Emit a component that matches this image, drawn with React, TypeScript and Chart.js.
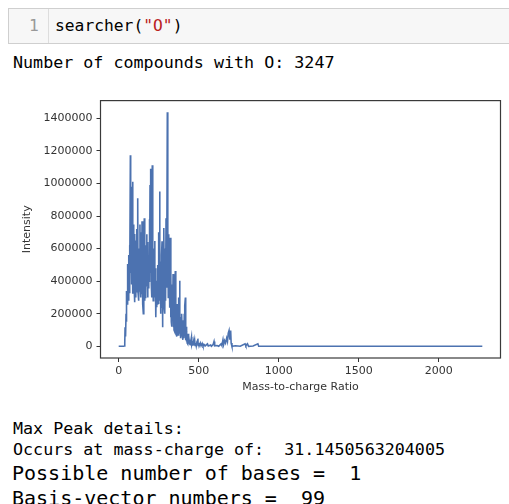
import React, { useEffect, useRef } from "react";
import { Chart, registerables } from "chart.js";

Chart.register(...registerables);

// Mass-to-charge values (x) and intensities (y)
const masses = [
  0, 10, 20, 30, 35, 38, 40, 43, 46, 48,
  50, 52, 54, 56, 58, 60, 62, 64, 66, 68,
  70, 73, 75, 77, 79, 81, 83, 85, 87, 89,
  91, 94, 96, 98, 100, 102, 104, 106, 108, 110,
  112, 114, 116, 119, 121, 123, 125, 127, 130, 133,
  135, 137, 139, 141, 143, 146, 148, 150, 152, 154,
  156, 158, 160, 162, 164, 166, 168, 170, 172, 175,
  177, 179, 181, 183, 185, 188, 190, 192, 194, 196,
  198, 200, 202, 204, 206, 208, 210, 212, 214, 216,
  218, 220, 222, 225, 227, 229, 231, 233, 235, 237,
  239, 241, 244, 246, 248, 250, 252, 254, 256, 258,
  260, 262, 264, 266, 268, 271, 273, 275, 277, 279,
  281, 283, 285, 287, 289, 291, 293, 296, 298, 300,
  302, 304, 306, 308, 310, 312, 314, 316, 318, 320,
  323, 325, 327, 329, 331, 333, 335, 337, 340, 342,
  344, 346, 348, 350, 352, 354, 356, 358, 360, 362,
  364, 366, 368, 370, 372, 375, 378, 381, 383, 385,
  387, 390, 392, 395, 398, 400, 402, 405, 408, 410,
  412, 414, 417, 419, 421, 423, 426, 428, 430, 432,
  435, 437, 440, 442, 445, 448, 452, 455, 457, 460,
  463, 468, 470, 475, 478, 482, 485, 490, 495, 497,
  500, 503, 510, 515, 522, 527, 535, 540, 555, 560,
  575, 580, 590, 596, 600, 615, 625, 640, 645, 652,
  656, 662, 668, 675, 680, 685, 690, 695, 700, 703,
  708, 730, 760, 790, 795, 805, 812, 840, 870, 875,
  900, 1000, 1200, 1500, 1800, 2000, 2273,
];

const intensities = [
  0, 0, 0, 0, 2000, 20000, 117000, 60000, 200000, 150000,
  340000, 260000, 420000, 505000, 300000, 460000, 280000, 560000, 330000, 620000,
  400000, 1173000, 450000, 820000, 380000, 980000, 430000, 700000, 1010000, 322000,
  640000, 748000, 380000, 600000, 270000, 690000, 330000, 560000, 300000, 650000,
  330000, 720000, 400000, 909000, 330000, 600000, 280000, 520000, 340000, 748000,
  365000, 620000, 300000, 700000, 320000, 768000, 360000, 640000, 260000, 200000,
  560000, 340000, 787000, 280000, 600000, 300000, 540000, 320000, 620000, 688000,
  365000, 560000, 300000, 640000, 360000, 523000, 400000, 780000, 420000, 990000,
  450000, 700000, 1091000, 380000, 620000, 300000, 1112000, 350000, 560000, 280000,
  500000, 300000, 600000, 646000, 300000, 480000, 240000, 178000, 400000, 240000,
  402000, 260000, 500000, 280000, 620000, 260000, 700000, 300000, 950000, 280000,
  520000, 200000, 480000, 240000, 560000, 645000, 117000, 420000, 180000, 560000,
  240000, 726000, 237000, 520000, 200000, 600000, 280000, 787000, 360000, 700000,
  400000, 1437000, 500000, 720000, 300000, 688000, 350000, 560000, 237000, 500000,
  667000, 178000, 420000, 150000, 380000, 120000, 340000, 160000, 444000, 117000,
  300000, 100000, 260000, 90000, 340000, 462000, 97000, 240000, 80000, 200000,
  60000, 260000, 100000, 220000, 70000, 300000, 120000, 402000, 77000, 180000,
  50000, 160000, 60000, 200000, 60000, 140000, 40000, 160000, 50000, 200000,
  60000, 250000, 300000, 37000, 120000, 30000, 90000, 20000, 60000, 15000,
  77000, 17000, 40000, 10000, 30000, 10000, 40000, 57000, 10000, 20000,
  5000, 30000, 5000, 37000, 5000, 20000, 3000, 30000, 47000, 5000,
  20000, 2000, 20000, 3000, 18000, 2000, 10000, 2000, 15000, 2000,
  8000, 0, 10000, 30000, 3000, 5000, 0, 15000, 5000, 40000,
  10000, 35000, 20000, 50000, 30000, 80000, 97000, 40000, 97000, 20000,
  0, 3000, 0, 15000, 3000, 15000, 0, 2000, 15000, 0,
  0, 0, 0, 0, 0, 0, 0,
];

const xTickValues = [0, 500, 1000, 1500, 2000];
const yTickValues = [0, 200000, 400000, 600000, 800000, 1000000, 1200000, 1400000];

const MONO = '"DejaVu Sans Mono", monospace';
const SANS = '"DejaVu Sans", sans-serif';

const framePlugin = {
  id: "frame",
  afterDraw(chart: any) {
    const { ctx, chartArea } = chart;
    ctx.save();
    ctx.strokeStyle = "#3a3a3a";
    ctx.lineWidth = 1.2;
    ctx.strokeRect(chartArea.left, chartArea.top, chartArea.right - chartArea.left, chartArea.bottom - chartArea.top);
    ctx.restore();
  },
};

function SpectrumChart() {
  const ref = useRef<HTMLCanvasElement>(null);
  useEffect(() => {
    const xmin = Math.min(...masses);
    const xmax = Math.max(...masses);
    const ymin = Math.min(...intensities);
    const ymax = Math.max(...intensities);
    const xpad = (xmax - xmin) * 0.05;
    const ypad = (ymax - ymin) * 0.05;
    const tickFont = { family: SANS, size: 11 };
    const chart = new Chart(ref.current!, {
      type: "line",
      data: {
        datasets: [
          {
            data: masses.map((m, i) => ({ x: m, y: intensities[i] })),
            borderColor: "#4C72B0",
            borderWidth: 1.6,
            pointRadius: 0,
            fill: false,
            tension: 0,
          },
        ],
      },
      options: {
        responsive: false,
        animation: false,
        devicePixelRatio: 1,
        layout: { padding: { top: 9, right: 8.5, left: 0, bottom: 0 } },
        plugins: { legend: { display: false }, tooltip: { enabled: false } },
        scales: {
          x: {
            type: "linear",
            min: xmin - xpad,
            max: xmax + xpad,
            afterBuildTicks: (s: any) => {
              s.ticks = xTickValues.map((v) => ({ value: v }));
            },
            afterFit: (s: any) => {
              s.height = 42;
            },
            grid: { drawOnChartArea: false, drawTicks: true, tickLength: 4, color: "#333", lineWidth: 1 },
            border: { display: false },
            ticks: {
              font: tickFont,
              color: "#333",
              padding: 3,
              maxRotation: 0,
              autoSkip: false,
              callback: (v: any) => String(v),
            },
            title: {
              display: true,
              text: "Mass-to-charge Ratio",
              font: tickFont,
              color: "#333",
              padding: { top: 0, bottom: 6 },
            },
          },
          y: {
            type: "linear",
            min: ymin - ypad,
            max: ymax + ypad,
            afterBuildTicks: (s: any) => {
              s.ticks = yTickValues.map((v) => ({ value: v }));
            },
            afterFit: (s: any) => {
              s.width = 100.5;
            },
            grid: { drawOnChartArea: false, drawTicks: true, tickLength: 4, color: "#333", lineWidth: 1 },
            border: { display: false },
            ticks: {
              font: tickFont,
              color: "#333",
              padding: 4,
              autoSkip: false,
              callback: (v: any) => String(v),
            },
            title: {
              display: true,
              text: "Intensity",
              font: tickFont,
              color: "#333",
              padding: { top: 21, bottom: 0 },
            },
          },
        },
      },
      plugins: [framePlugin],
    } as any);
    return () => chart.destroy();
  }, []);
  return (
    <canvas
      ref={ref}
      width={509}
      height={310}
      style={{ position: "absolute", left: 0, top: 90, width: 509, height: 310 }}
    />
  );
}

function Line({ top, left, size, children }: { top: number; left: number; size: number; children: any }) {
  return (
    <div
      style={{
        position: "absolute",
        top,
        left,
        fontFamily: MONO,
        fontSize: size,
        lineHeight: `${size}px`,
        whiteSpace: "pre",
        color: "#000",
      }}
    >
      {children}
    </div>
  );
}

export default function App() {
  return (
    <div
      style={{
        position: "absolute",
        left: 0,
        top: 0,
        width: 509,
        height: 504,
        overflow: "hidden",
        background: "#fff",
      }}
    >
      <div
        style={{
          position: "absolute",
          left: 8,
          top: 8,
          width: 510,
          height: 36,
          boxSizing: "border-box",
          background: "#f7f7f7",
          border: "1px solid #cfcfcf",
        }}
      />
      <div style={{ position: "absolute", left: 48, top: 9, width: 1, height: 34, background: "#dddddd" }} />
      <Line top={18} left={29} size={16.3}>
        <span style={{ color: "#999" }}>1</span>
      </Line>
      <Line top={18} left={55} size={16.3}>
        searcher(<span style={{ color: "#BA2121" }}>"O"</span>)
      </Line>
      <Line top={53.5} left={13} size={16.7}>
        Number of compounds with O: 3247
      </Line>
      <SpectrumChart />
      <Line top={420} left={13} size={16.7}>
        Max Peak details:
      </Line>
      <Line top={441} left={13} size={16.7}>
        {"Occurs at mass-charge of:  31.1450563204005"}
      </Line>
      <Line top={462.5} left={12} size={20}>
        {"Possible number of bases =  1"}
      </Line>
      <Line top={487.5} left={12} size={20}>
        {"Basis-vector numbers =  99"}
      </Line>
    </div>
  );
}
